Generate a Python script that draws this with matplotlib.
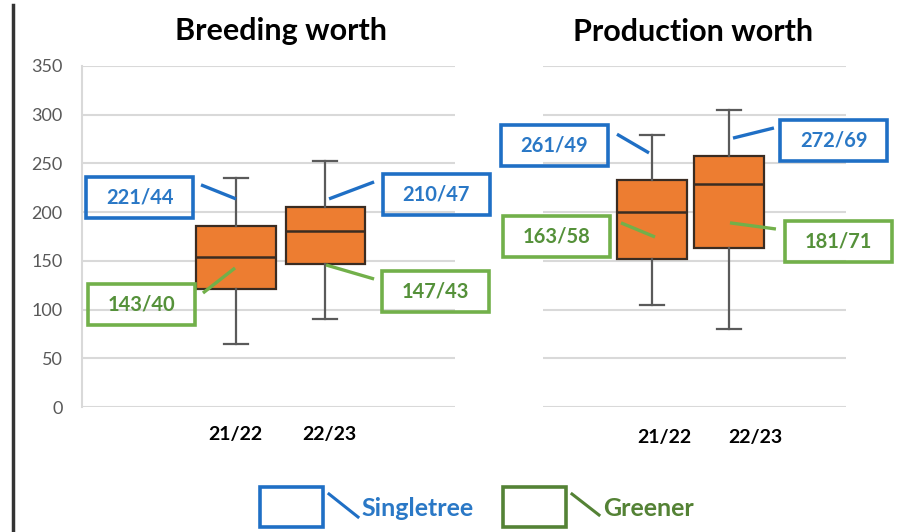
import matplotlib.pyplot as plt
from matplotlib.patches import Rectangle
from matplotlib.lines import Line2D

plt.rcParams['font.family'] = ['Lato', 'DejaVu Sans']

seasons = ["21/22", "22/23"]

# box plot statistics
breeding_whislo = [65, 90]
breeding_q1 = [121, 147]
breeding_med = [154, 181]
breeding_q3 = [186, 205]
breeding_whishi = [235, 253]

production_whislo = [105, 80]
production_q1 = [152, 163]
production_med = [200, 229]
production_q3 = [233, 258]
production_whishi = [279, 305]

# callout labels (Singletree / Greener)
breeding_singletree = ["221/44", "210/47"]
breeding_greener = ["143/40", "147/43"]
production_singletree = ["261/49", "272/69"]
production_greener = ["163/58", "181/71"]

BLUE = '#1f6fc5'
BLUE_TXT = '#2a78c6'
GREEN = '#72b04a'
GREEN_TXT = '#55913a'
GREEN_DARK = '#548235'
ORANGE = '#ed7d31'
GRID = '#d9d9d9'

W, H = 900, 532
fig = plt.figure(figsize=(W / 100, H / 100), dpi=100)


def px_axes(x0, x1, y0, y1):
    return fig.add_axes([x0 / W, 1 - y1 / H, (x1 - x0) / W, (y1 - y0) / H])


def stats(lo, q1, med, q3, hi):
    return [dict(whislo=a, q1=b, med=c, q3=d, whishi=e, fliers=[])
            for a, b, c, d, e in zip(lo, q1, med, q3, hi)]


def panel(ax, st, xlim, bw, cw, tick_pos, tick_labels, pad):
    ax.set_xlim(*xlim)
    ax.set_ylim(0, 350)
    ax.set_yticks(range(0, 351, 50))
    ax.grid(axis='y', color=GRID, linewidth=1.5)
    ax.set_axisbelow(True)
    ax.bxp(st, positions=[1, 2], widths=bw, capwidths=cw, patch_artist=True,
           showfliers=False,
           boxprops=dict(facecolor=ORANGE, edgecolor='#3a2c22', linewidth=1.6),
           medianprops=dict(color='#3a2c22', linewidth=1.8),
           whiskerprops=dict(color='#5a5a5a', linewidth=1.6),
           capprops=dict(color='#5a5a5a', linewidth=1.6))
    ax.set_xticks(tick_pos)
    ax.set_xticklabels(tick_labels, fontsize=14, fontweight='bold')
    ax.tick_params(axis='x', length=0, pad=pad)
    ax.tick_params(axis='y', length=0, labelsize=13, labelcolor='#595959', pad=14)
    for s in ['top', 'right', 'bottom', 'left']:
        ax.spines[s].set_visible(False)


def callout(ax, text, cx, cy, seg, edge, tcolor):
    # box of fixed pixel size centred at (cx, cy) in data coords
    x0, x1 = ax.get_xlim()
    pos = ax.get_position()
    ppx = pos.width * W / (x1 - x0)
    ppy = pos.height * H / 350
    bw, bh = 107 / ppx, 41 / ppy
    ax.add_patch(Rectangle((cx - bw / 2, cy - bh / 2), bw, bh, fill=False,
                           edgecolor=edge, linewidth=2.6, clip_on=False, zorder=5))
    ax.text(cx, cy, text, ha='center', va='center', fontsize=14.5,
            fontweight='bold', color=tcolor, zorder=6, clip_on=False)
    ax.plot(seg[0], seg[1], color=edge, linewidth=2.4, solid_capstyle='butt',
            zorder=6, clip_on=False)


ax1 = px_axes(82, 455, 66, 407)
panel(ax1, stats(breeding_whislo, breeding_q1, breeding_med, breeding_q3, breeding_whishi),
      (-0.73, 3.46), 0.888, 0.26, [0.99, 2.05], seasons, 14)
ax1.spines['left'].set_visible(True)
ax1.spines['left'].set_color(GRID)
ax1.spines['left'].set_linewidth(1.5)

ax2 = px_axes(543, 846, 66, 407)
panel(ax2, stats(production_whislo, production_q1, production_med, production_q3, production_whishi),
      (-0.416, 3.52), 0.909, 0.30, [1.156, 2.338], seasons, 16)
ax2.tick_params(axis='y', labelleft=False)

fig.text(281 / W, 1 - 31 / H, "Breeding worth", ha='center', va='center',
         fontsize=22, fontweight='bold')
fig.text(693 / W, 1 - 32 / H, "Production worth", ha='center', va='center',
         fontsize=22, fontweight='bold')

# callout placement (box centre, leader segment)
callout(ax1, breeding_singletree[0], -0.084, 214.6, ([0.607, 1.0], [228, 213.6]), BLUE, BLUE_TXT)
callout(ax1, breeding_singletree[1], 3.247, 218.0, ([2.045, 2.551], [213.6, 231]), BLUE, BLUE_TXT)
callout(ax1, breeding_greener[0], -0.067, 104.7, ([0.629, 0.989], [117, 142.7]), GREEN, GREEN_TXT)
callout(ax1, breeding_greener[1], 3.236, 119.0, ([2.011, 2.551], [145.8, 131.4]), GREEN, GREEN_TXT)

callout(ax2, production_singletree[0], -0.266, 268.0, ([0.545, 0.961], [280, 260.8]), BLUE, BLUE_TXT)
callout(ax2, production_singletree[1], 3.364, 273.6, ([2.052, 2.584], [276, 286.4]), BLUE, BLUE_TXT)
callout(ax2, production_greener[0], -0.240, 175.0, ([0.597, 1.039], [189, 174.5]), GREEN, GREEN_TXT)
callout(ax2, production_greener[1], 3.422, 170.0, ([2.013, 2.610], [189, 182.7]), GREEN, GREEN_TXT)

# legend drawn in figure pixels
def fpx(x, y):
    return x / W, 1 - y / H

for (bx, lx0, lx1, ly1, tx, label, ec, tc) in [
        (260, 329, 358, 517, 361, "Singletree", BLUE, BLUE_TXT),
        (503, 572, 599, 515, 603, "Greener", GREEN_DARK, GREEN_DARK)]:
    fig.add_artist(Rectangle(fpx(bx, 527), 63 / W, 40 / H, fill=False,
                             edgecolor=ec, linewidth=2.6, transform=fig.transFigure))
    fig.add_artist(Line2D([lx0 / W, lx1 / W], [1 - 494 / H, 1 - ly1 / H],
                          color=ec, linewidth=2.2, transform=fig.transFigure))
    fig.text(tx / W, 1 - 508 / H, label, ha='left', va='center', fontsize=18,
             fontweight='bold', color=tc)

# vertical rule at the left edge
fig.add_artist(Line2D([13 / W, 13 / W], [0, 1 - 5 / H], color='#333333',
                      linewidth=2.5, transform=fig.transFigure))

fig.savefig("out.png", dpi=100)
